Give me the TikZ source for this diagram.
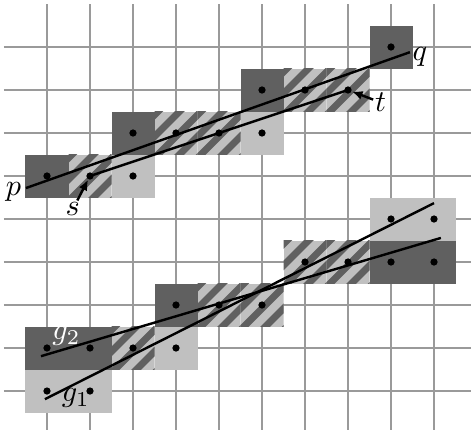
\documentclass[tikz,border=0pt]{standalone}
\usepackage{tikz}
\usetikzlibrary{positioning,arrows.meta}
\definecolor{cDark}{HTML}{606060}
\definecolor{cLight}{HTML}{C0C0C0}
\definecolor{cGrid}{HTML}{9A9A9A}
\tikzset{
  gridline/.style={cGrid, line width=0.5pt},
  darkcell/.style={fill=cDark},
  lightcell/.style={fill=cLight},
  stripe/.style={cDark, line width=2.3pt},
  pixdot/.style={circle, fill=black, inner sep=0pt, minimum size=2.4pt},
  fitline/.style={black, line width=0.8pt},
  pointer/.style={-{Latex[length=3.5pt,width=3pt]}, line width=0.8pt},
  lbl/.style={inner sep=0.5pt},
}

\begin{document}
\begin{tikzpicture}[x=0.5cm, y=0.5cm]
  \useasboundingbox (-0.093,-0.023) rectangle (10.86,10.093);
  % grid
  \foreach \c in {1,...,10} \draw[gridline] (\c,0.1) -- (\c,10);
  \foreach \r in {1,...,9} \draw[gridline] (0,\r) -- (10.86,\r);
  % cells
  \foreach \x/\y in {1/6,3/7,6/8,9/9, 1/2,2/2,4/3,9/4,10/4}
    \fill[darkcell] (\x-0.5,\y-0.5) rectangle ++(1,1);
  \foreach \x/\y in {3/6,6/7, 1/1,2/1,4/2,9/5,10/5}
    \fill[lightcell] (\x-0.5,\y-0.5) rectangle ++(1,1);
  \foreach \x/\y in {2/6,4/7,5/7,7/8,8/8, 3/2,5/3,6/3,7/4,8/4} {
    \begin{scope}
      \clip (\x-0.5,\y-0.5) rectangle ++(1,1);
      \fill[lightcell] (\x-0.5,\y-0.5) rectangle ++(1,1);
      \foreach \k in {0,...,5}
        \draw[stripe] (\x-2.42+\k/2,\y-1.5) -- ++(3,3);
    \end{scope}
  }
  % lines
  \coordinate (p0) at (0.51,5.72);
  \coordinate (q0) at (9.44,8.88);
  \coordinate (g1a) at (0.95,0.81);
  \coordinate (g1b) at (10.0,5.37);
  \coordinate (g2a) at (0.86,1.81);
  \coordinate (g2b) at (10.16,4.56);
  \draw[fitline] (p0) -- (q0);
  \draw[fitline] (g1a) -- (g1b);
  \draw[fitline] (g2a) -- (g2b);
  % pixel centres
  \foreach \x/\y in {1/6,2/6,3/6,3/7,4/7,5/7,6/7,6/8,7/8,8/8,9/9,
                     1/1,2/1,1/2,2/2,3/2,4/2,4/3,5/3,6/3,7/4,8/4,9/4,10/4,9/5,10/5}
    \node[pixdot] (d\x\y) at (\x,\y) {};
  \draw[fitline] (d26.center) -- (d88.center);
  % labels
  \node[lbl] (p) at (0.22,5.64) {$p$};
  \node[lbl] (q) at (9.67,8.77) {$q$};
  \node[lbl] (s) at (1.60,5.23) {$s$};
  \node[lbl] (t) at (8.76,7.71) {$t$};
  \node[lbl,white] (g2) at (1.45,2.28) {$g_2$};
  \node[lbl] (g1) at (1.67,0.83) {$g_1$};
  \draw[pointer] (s) -- (d26);
  \draw[pointer] (t) -- (d88);
\end{tikzpicture}
\end{document}
